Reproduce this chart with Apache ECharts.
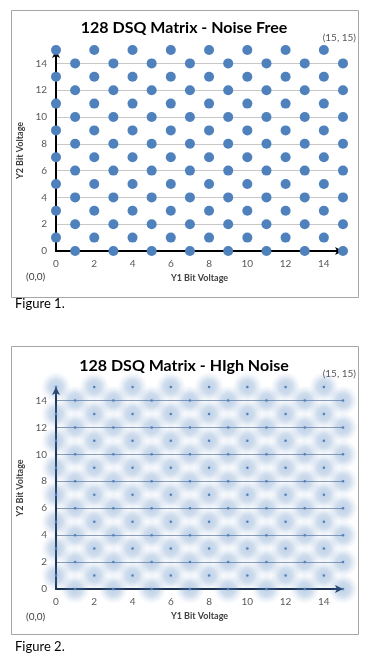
<!DOCTYPE html>
<html>
<head>
<meta charset="utf-8">
<style>
html,body{margin:0;padding:0;background:#fff;}
#c{width:371px;height:660px;}
</style>
<script src="https://cdn.jsdelivr.net/npm/echarts@6/dist/echarts.min.js"></script>
</head>
<body>
<div id="c"></div>
<script>
// ---- data ----
var evenRows = [0, 2, 4, 6, 8, 10, 12, 14];      // Y2 levels with odd Y1 values
var evenRowX = [1, 3, 5, 7, 9, 11, 13, 15];
var oddRows = [1, 3, 5, 7, 9, 11, 13, 15];       // Y2 levels with even Y1 values
var oddRowX = [0, 2, 4, 6, 8, 10, 12, 14];
var tickLabels = [0, 2, 4, 6, 8, 10, 12, 14];
var titles = ['128 DSQ Matrix - Noise Free', '128 DSQ Matrix - HIgh Noise'];
var captions = ['Figure 1.', 'Figure 2.'];
var cornerMax = '(15, 15)';
var cornerMin = '(0,0)';
var xName = 'Y1 Bit Voltage';
var yName = 'Y2 Bit Voltage';

var pts = [];
evenRows.forEach(function (y) { evenRowX.forEach(function (x) { pts.push([x, y]); }); });
oddRows.forEach(function (y) { oddRowX.forEach(function (x) { pts.push([x, y]); }); });

var FONT = 'Lato, "Open Sans", sans-serif';
var blue = '#4F81BD';

function labelFmt(v) { return tickLabels.indexOf(v) >= 0 ? String(v) : ''; }

function xAxis(idx, lineColor) {
  return {
    gridIndex: idx, type: 'value', min: 0, max: 15, interval: 2,
    name: xName, nameLocation: 'middle', nameGap: 23,
    nameTextStyle: { fontFamily: FONT, fontSize: 9, fontWeight: 'bold', color: '#404040' },
    axisLine: { show: true, onZero: false, symbol: ['none', 'arrow'], symbolSize: [6, 8],
      lineStyle: { color: lineColor, width: 2 } },
    axisTick: { show: false },
    axisLabel: { formatter: labelFmt, color: '#595959', fontFamily: FONT, fontSize: 10, margin: 8,
      showMaxLabel: false },
    splitLine: { show: false }
  };
}
function yAxis(idx, lineColor, gridColor) {
  return {
    gridIndex: idx, type: 'value', min: 0, max: 15, interval: 2,
    name: yName, nameLocation: 'middle', nameGap: 21,
    nameTextStyle: { fontFamily: FONT, fontSize: 9, fontWeight: 'bold', color: '#404040' },
    axisLine: { show: true, onZero: false, symbol: ['none', 'arrow'], symbolSize: [6, 8],
      lineStyle: { color: lineColor, width: 2 } },
    axisTick: { show: false },
    axisLabel: { formatter: labelFmt, color: '#595959', fontFamily: FONT, fontSize: 10, margin: 9,
      showMaxLabel: false },
    splitLine: { show: true, showMinLine: false, showMaxLine: false,
      lineStyle: { color: gridColor, width: 1 } }
  };
}

function txt(text, x, y, size, weight, color, align) {
  return { type: 'text', silent: true, z: 100,
    style: { text: text, x: x, y: y, fill: color, font: weight + ' ' + size + 'px ' + FONT,
      align: align, textAlign: align, verticalAlign: 'middle', textVerticalAlign: 'middle' } };
}

var chart = echarts.init(document.getElementById('c'), null, { renderer: 'canvas' });
chart.setOption({
  animation: false,
  backgroundColor: '#fff',
  grid: [
    { left: 56, right: 28, top: 50, bottom: 409 },
    { left: 56, right: 28, top: 387, bottom: 71 }
  ],
  xAxis: [xAxis(0, '#000'), xAxis(1, '#1c2f4c')],
  yAxis: [yAxis(0, '#000', '#c8c8c8'), yAxis(1, '#1c2f4c', '#8c9db5')],
  series: [
    { type: 'scatter', xAxisIndex: 0, yAxisIndex: 0, data: pts, symbolSize: 10,
      itemStyle: { color: blue, opacity: 1 }, z: 3 },
    { type: 'scatter', xAxisIndex: 1, yAxisIndex: 1, data: pts, symbolSize: 30,
      itemStyle: { opacity: 1, color: { type: 'radial', x: 0.5, y: 0.5, r: 0.5, colorStops: [
        { offset: 0, color: 'rgba(79,129,189,0.36)' },
        { offset: 0.45, color: 'rgba(79,129,189,0.28)' },
        { offset: 0.75, color: 'rgba(79,129,189,0.1)' },
        { offset: 1, color: 'rgba(79,129,189,0)' } ] } }, z: 2 },
    { type: 'scatter', xAxisIndex: 1, yAxisIndex: 1, data: pts, symbolSize: 2.5,
      itemStyle: { color: blue, opacity: 1 }, z: 4 }
  ],
  graphic: [
    { type: 'rect', silent: true, z: 90, shape: { x: 11.5, y: 10.5, width: 347, height: 287 },
      style: { fill: 'none', stroke: '#a6a6a6', lineWidth: 1 } },
    { type: 'rect', silent: true, z: 90, shape: { x: 11.5, y: 346.5, width: 347, height: 288 },
      style: { fill: 'none', stroke: '#a6a6a6', lineWidth: 1 } },
    txt(titles[0], 184, 28, 16, 'bold', '#000', 'center'),
    txt(titles[1], 184, 366, 16, 'bold', '#000', 'center'),
    txt(cornerMax, 356, 38, 10, 'normal', '#595959', 'right'),
    txt(cornerMax, 356, 374, 10, 'normal', '#595959', 'right'),
    txt(cornerMin, 26, 277, 10, 'normal', '#404040', 'left'),
    txt(cornerMin, 26, 617, 10, 'normal', '#404040', 'left'),
    txt(captions[0], 15, 304, 13, 'normal', '#000', 'left'),
    txt(captions[1], 15, 647, 13, 'normal', '#000', 'left')
  ]
});
</script>
</body>
</html>
